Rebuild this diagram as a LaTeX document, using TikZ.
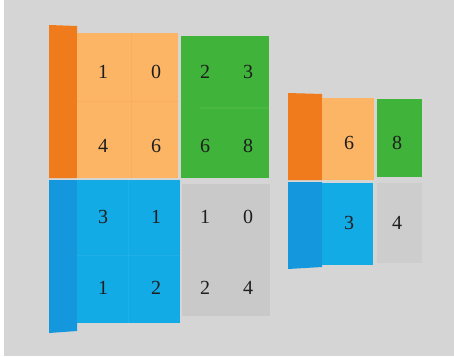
\documentclass[tikz,border=0pt]{standalone}
\usepackage{fontspec}
\setmainfont{Liberation Serif}
\definecolor{bg}{HTML}{D5D5D5}
\definecolor{orside}{HTML}{EF7B1C}
\definecolor{orfront}{HTML}{FCB465}
\definecolor{orline}{HTML}{F9AE5E}
\definecolor{grfront}{HTML}{40B33A}
\definecolor{grline}{HTML}{48B842}
\definecolor{blside}{HTML}{1497DC}
\definecolor{blfront}{HTML}{12ABE6}
\definecolor{blline}{HTML}{20B0E8}
\definecolor{gycell}{HTML}{C9C9C9}
\definecolor{gycellb}{HTML}{CDCDCD}
\definecolor{txt}{HTML}{1E1E1E}
\tikzset{
  num/.style={text=txt, font=\fontsize{20}{20}\selectfont, inner sep=0pt, anchor=center},
  numsmall/.style={num}
}
\begin{document}
\begin{tikzpicture}[x=1pt,y=-1pt]
\useasboundingbox (0,0) rectangle (454,356);
\fill[bg] (0,0) rectangle (454,356);
\fill[white] (0,0) rectangle (4,356);
% ---- big grid ----
% orange block
\fill[orside] (49,25) -- (77,26) -- (77,178) -- (49,178) -- cycle;
\fill[orfront] (77,33) rectangle (178,178);
\draw[orline, line width=1pt] (77,101) -- (178,101) (131,33) -- (131,178);
% green block
\fill[grfront] (181,36) rectangle (269,178);
\draw[grline, line width=2pt] (200,108) -- (269,108);
% blue block
\fill[blside] (49,180) -- (77,180) -- (77,331) -- (49,333) -- cycle;
\fill[blfront] (77,180) rectangle (180,323);
\draw[blline, line width=1pt] (77,255) -- (180,255) (128,180) -- (128,323);
% gray block
\fill[gycell] (182,184) rectangle (270,316);
% numbers
\node[num] (a11) at (103,72) {1};
\node[num] (a12) at (156,72) {0};
\node[num] (a13) at (205,72) {2};
\node[num] (a14) at (248,72) {3};
\node[num] (a21) at (103,146) {4};
\node[num] (a22) at (156,146) {6};
\node[num] (a23) at (205,146) {6};
\node[num] (a24) at (248,146) {8};
\node[num] (a31) at (103,217) {3};
\node[num] (a32) at (156,217) {1};
\node[num] (a33) at (205,217) {1};
\node[num] (a34) at (248,217) {0};
\node[num] (a41) at (103,288) {1};
\node[num] (a42) at (156,288) {2};
\node[num] (a43) at (205,288) {2};
\node[num] (a44) at (248,288) {4};
% ---- small grid ----
\fill[orside] (288,93) -- (322,94) -- (322,180) -- (288,180) -- cycle;
\fill[orfront] (322,98) rectangle (374,180);
\fill[grfront] (377,99) rectangle (422,177);
\fill[blside] (288,182) -- (322,182) -- (322,267) -- (288,269) -- cycle;
\fill[blfront] (322,183) rectangle (373,265);
\fill[gycellb] (377,183) rectangle (422,263);
\node[numsmall] (b11) at (349,143) {6};
\node[numsmall] (b12) at (397,143) {8};
\node[numsmall] (b21) at (349,223) {3};
\node[numsmall] (b22) at (397,223) {4};
\end{tikzpicture}
\end{document}
